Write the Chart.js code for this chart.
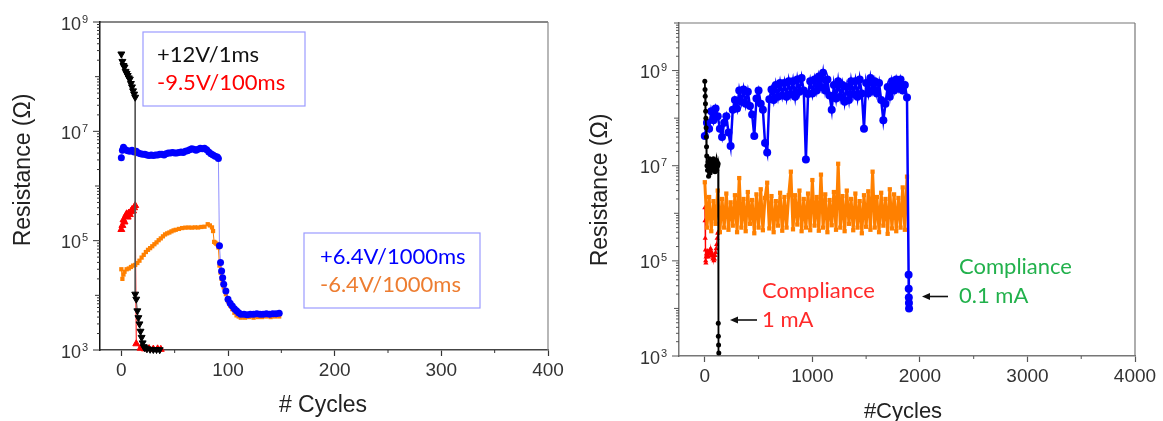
<!DOCTYPE html>
<html>
<head>
<meta charset="utf-8">
<script src="https://cdn.jsdelivr.net/npm/chart.js@4.4.1/dist/chart.umd.min.js"></script>
<style>
  html, body { margin: 0; padding: 0; background: #fff; }
  #wrap { position: relative; width: 1163px; height: 421px; overflow: hidden; }
  canvas { position: absolute; top: 0; }
  #left { left: 0; }
  #right { left: 580px; }
</style>
</head>
<body>
<div id="wrap">
  <canvas id="left" width="580" height="421"></canvas>
  <canvas id="right" width="583" height="421"></canvas>
</div>
<script>
// ---- left panel: pulse conditions ----
const leftBlackX = [0,1,2,3,4,5,6,7,8,9,10,11,12,13, 13,14,15,16,17,18,19,20,21,22,24,27,30,33,36];
const leftBlackY = [2.6e8,1.9e8,1.6e8,1.5e8,1.25e8,1.15e8,1.05e8,9.5e7,9e7,7.5e7,6.5e7,5.5e7,4.8e7,4.2e7,
  1.05e4,8.5e3,5.2e3,3.9e3,3e3,2.2e3,1.7e3,1.35e3,1.15e3,1.1e3,1.05e3,1.03e3,1.02e3,1.02e3,1.01e3];

const leftRedX = [0,1,2,3,4,5,6,7,8,9,10,11,12,13, 14,18,22,26,30,34,37];
const leftRedY = [1.6e5,1.9e5,2.4e5,2.2e5,2.8e5,3.1e5,2.7e5,3.2e5,3.0e5,3.4e5,3.7e5,3.5e5,4.0e5,4.4e5,
  1.3e3,1.08e3,1.05e3,1.06e3,1.04e3,1.05e3,1.03e3];

const leftBlueX = [0,1,2,4,6,8,10,12,14,16,18,20,22,24,26,28,30,32,34,36,38,40,42,44,46,48,50,52,54,56,58,60,62,
  64,66,68,70,72,74,76,78,80,82,84,86,88,90,91,
  92,93,94,95,96,98,100,102,104,106,108,110,112,
  115,118,121,124,127,130,133,136,139,142,145,148];
const leftBlueY = [3.3e6,4.5e6,5.1e6,
  4.6e6,4.4e6,4.3e6,4.5e6,4.2e6,4.3e6,4.0e6,3.9e6,3.8e6,3.8e6,
  3.7e6,3.6e6,3.7e6,3.6e6,3.7e6,3.7e6,3.8e6,3.8e6,3.7e6,3.9e6,
  4.0e6,4.0e6,4.1e6,4.0e6,4.0e6,4.1e6,4.2e6,4.1e6,4.3e6,4.4e6,
  4.6e6,4.8e6,4.7e6,4.5e6,4.7e6,4.9e6,4.8e6,4.9e6,4.6e6,4.2e6,
  3.9e6,3.7e6,3.5e6,3.4e6,3.2e6,
  8.1e4,4e4,2.8e4,2.1e4,1.6e4,1.2e4,8.5e3,7.2e3,6.4e3,5.7e3,5.2e3,4.8e3,4.5e3,
  4.5e3,4.4e3,4.5e3,4.5e3,4.6e3,4.5e3,4.5e3,4.6e3,4.5e3,4.6e3,4.6e3,4.7e3];

const leftOrangeX = [0,1,2,3,5,7,9,11,13,15,17,19,21,23,25,27,29,31,33,35,37,39,41,43,45,47,49,51,
  54,57,60,63,66,69,72,75,78,81,83,85,86,87,88,89,90,91,92,93,94,95,96,
  98,100,102,104,106,108,110,112,116,120,124,128,132,136,140,144,148];
const leftOrangeY = [3.0e4,2.0e4,2.4e4,2.7e4,
  3.0e4,3.1e4,3.3e4,3.5e4,3.6e4,3.9e4,4.3e4,4.9e4,5.5e4,6.2e4,6.8e4,7.3e4,
  7.9e4,8.6e4,9.3e4,1.02e5,1.1e5,1.2e5,1.3e5,1.36e5,1.41e5,1.48e5,1.54e5,1.58e5,
  1.64e5,1.7e5,1.73e5,1.74e5,1.73e5,1.75e5,1.74e5,1.78e5,1.8e5,
  2.0e5,1.9e5,1.75e5,
  1.5e5,9.5e4,9.2e4,8.8e4,8.6e4,7.5e4,3.5e4,2.6e4,2.0e4,1.7e4,1.4e4,
  1.05e4,7.8e3,6.5e3,5.6e3,4.8e3,4.3e3,4.1e3,3.9e3,
  3.9e3,4.0e3,3.9e3,4.0e3,4.0e3,4.1e3,4.0e3,4.1e3,4.1e3];

// ---- right panel: compliance ----
const rightBlackX = [0,2,4,6,8,10,12,14,16,18,20,
  25,30,35,40,45,50,55,60,65,70,75,80,85,90,95,100,105,110,115,120,124,
  125,126,128,130];
const rightBlackY = [6e8,4e8,2.9e8,2e8,1.4e8,1e8,6.3e7,4e7,2.5e7,1.6e7,1e7,
  8e6,1.2e7,6e6,1e7,1.4e7,7e6,1.2e7,9e6,1.3e7,8e6,1.1e7,1.4e7,9e6,1.2e7,7.5e6,1.1e7,1.3e7,8e6,1.2e7,1e7,1.1e7,
  4.9e3,2.6e3,1.7e3,1.15e3];

const rightRedX = [0,2,4,6,8,10,12,15,20,25,30,35,40,45,50,55,60,65,70,75,80,85,90,95,100,105,110,115,120,124];
const rightRedY = [1.3e6,7e5,3e5,1.7e5,1e5,9e4,1.2e5,1.4e5,1.3e5,1.6e5,1.4e5,1.2e5,1.5e5,1.7e5,1.4e5,
  1.8e5,1.6e5,1.3e5,1.4e5,1.1e5,1.2e5,1e5,1.1e5,1.3e5,1.5e5,1.8e5,2.2e5,3e5,3.8e5,4e5];

const rightCycles = [0,20,40,60,80,100,120,140,160,180,
  200,220,240,260,280,300,320,340,360,380,
  400,420,440,460,480,500,520,540,560,580,
  600,620,640,660,680,700,720,740,760,780,
  800,820,840,860,880,900,920,940,960,980,
  1000,1020,1040,1060,1080,1100,1120,1140,1160,1180,
  1200,1220,1240,1260,1280,1300,1320,1340,1360,1380,
  1400,1420,1440,1460,1480,1500,1520,1540,1560,1580,
  1600,1620,1640,1660,1680,1700,1720,1740,1760,1780,
  1800,1820,1840,1860,1880];

const rightBlueY = [4.2e7,8e7,6e7,1.4e8,9e7,1.6e8,1.1e8,6e7,4e7,8e7,
  1.1e8,5e7,2.6e7,1.5e8,2.4e8,1.6e8,3.8e8,2.2e8,4e8,2e8,
  3.6e8,1.8e8,1.2e8,4.2e7,2.6e8,3.8e8,2e8,1.5e8,3e7,1.9e7,
  2.5e8,4e8,2.4e8,5e8,2.8e8,5.5e8,3e8,5.5e8,2.8e8,6e8,
  3.2e8,6e8,2.8e8,6.5e8,3.6e8,7e8,3.8e8,1.35e7,3.2e8,6e8,
  3.3e8,6.5e8,3.8e8,7.5e8,4.5e8,9e8,3.8e8,6.5e8,3e8,1.5e8,
  5e8,2.6e8,6e8,2.8e8,5e8,2.2e8,4.5e8,2.4e8,6e8,3.2e8,
  6e8,2.8e8,6.5e8,3.3e8,6e7,5.5e8,3.3e8,7e8,3.8e8,6e8,
  3.3e8,5.5e8,2.4e8,9e7,2e8,4.5e8,2.8e8,6e8,3.8e8,6.5e8,
  4.2e8,6.5e8,3.8e8,5e8,2.7e8];
const rightBlueTailX = [1895,1896,1897,1898,1899];
const rightBlueTailY = [5.1e4,2.6e4,1.7e4,1.3e4,1e4];

const rightOrangeY = [4.5e6,5e5,2.2e6,4.2e5,1.8e6,6e5,3e6,4e5,2e6,5e5,
  2.6e6,4.5e5,1.7e6,5.5e5,2.4e6,4e5,5.5e6,5e5,2e6,4.2e5,
  2.8e6,6e5,1.9e6,3.8e5,2.5e6,5e5,3.2e6,4.4e5,2.1e6,4.4e6,
  4.8e5,2.3e6,4e5,1.8e6,5.5e5,2.7e6,4.3e5,2.2e6,5e5,2.4e6,
  7.5e6,4.6e5,2.4e6,5.8e5,3e6,4.2e5,2e6,5e5,2.6e6,4.4e5,
  5e6,5.5e5,2.2e6,4.3e5,6.5e6,5e5,2.5e6,4e5,1.9e6,5.6e5,
  2.8e6,4.5e5,1.1e7,5e5,2.3e6,4.2e5,3e6,6e5,2e6,4.4e5,
  2.6e6,5e5,1.8e6,3.8e5,2.4e6,5.2e5,2.9e6,4.5e5,7.5e6,5e5,
  2.2e6,4e5,2.7e6,5.5e5,2e6,3.7e5,3.2e6,4.8e5,2.5e6,4.2e5,
  2.1e6,5e5,3.5e6,4.5e5,5.9e6];

const leftXTicks = [0,100,200,300,400];
const leftXTicksMinor = [50,150,250,350];
const rightXTicks = [0,1000,2000,3000,4000];
const rightXTicksMinor = [500,1500,2500,3500];
const yLabelExps = [3,5,7,9];

function pts(xs, ys) {
  return xs.map((x, i) => ({ x: x, y: ys[i] }));
}

function series(xs, ys, o) {
  return Object.assign({ data: pts(xs, ys), showLine: true, clip: false }, o);
}

function line(ctx, x1, y1, x2, y2) {
  ctx.beginPath(); ctx.moveTo(x1, y1); ctx.lineTo(x2, y2); ctx.stroke();
}

// frame, log ticks with superscript labels, titles and annotations
const decor = {
  id: 'decor',
  afterDraw(chart, args, o) {
    const ctx = chart.ctx, a = chart.chartArea;
    const xs = chart.scales.x, ys = chart.scales.y;
    ctx.save();
    ctx.lineWidth = 1.2;
    ctx.strokeStyle = o.topColor;
    line(ctx, a.left, a.top, a.right, a.top);
    ctx.strokeStyle = o.rightColor;
    line(ctx, a.right, a.top, a.right, a.bottom);

    ctx.strokeStyle = o.tickColor;
    ctx.lineWidth = 1;
    for (let e = o.expMin; e <= o.expMax; e++) {
      for (let m = 1; m <= 9; m++) {
        const v = m * Math.pow(10, e);
        if (v > ys.max * 1.0001) break;
        const py = ys.getPixelForValue(v);
        const len = m > 1 ? 3 : (yLabelExps.includes(e) ? 7 : 5);
        line(ctx, a.left - len, py, a.left, py);
      }
    }
    o.xMinor.forEach(v => {
      const px = xs.getPixelForValue(v);
      line(ctx, px, a.bottom, px, a.bottom + 3);
    });

    ctx.fillStyle = '#333';
    ctx.textBaseline = 'alphabetic';
    yLabelExps.forEach(e => {
      const py = ys.getPixelForValue(Math.pow(10, e));
      ctx.font = '18px "Liberation Sans"';
      ctx.textAlign = 'right';
      ctx.fillText('10', a.left - 19, py + 7.5);
      ctx.font = '11px "Liberation Sans"';
      ctx.textAlign = 'left';
      ctx.fillText(String(e), a.left - 18, py + 0.5);
    });

    o.boxes.forEach(b => {
      ctx.strokeStyle = '#9b9bff';
      ctx.lineWidth = 1.2;
      ctx.strokeRect(b.x, b.y, b.w, b.h);
    });

    o.arrows.forEach(r => {
      ctx.strokeStyle = '#111';
      ctx.fillStyle = '#111';
      ctx.lineWidth = 1.6;
      line(ctx, r.x1, r.y, r.x2 + 6, r.y);
      ctx.beginPath();
      ctx.moveTo(r.x2, r.y);
      ctx.lineTo(r.x2 + 8, r.y - 3.5);
      ctx.lineTo(r.x2 + 8, r.y + 3.5);
      ctx.closePath();
      ctx.fill();
    });

    o.texts.forEach(t => {
      ctx.font = t.font;
      ctx.fillStyle = t.color;
      ctx.textBaseline = 'alphabetic';
      if (t.rotate) {
        ctx.save();
        ctx.translate(t.x, t.y);
        ctx.rotate(-Math.PI / 2);
        ctx.textAlign = 'center';
        ctx.fillText(t.text, 0, 0);
        ctx.restore();
      } else {
        ctx.textAlign = t.align || 'left';
        ctx.fillText(t.text, t.x, t.y);
      }
    });
    ctx.restore();
  }
};
Chart.register(decor);

function makeOptions(cfg) {
  return {
    responsive: false,
    animation: false,
    devicePixelRatio: 1,
    layout: { padding: { top: cfg.top, right: cfg.right, left: 0, bottom: 0 } },
    plugins: { legend: { display: false }, tooltip: { enabled: false }, decor: cfg.decor },
    scales: {
      x: {
        type: 'linear', min: cfg.xMin, max: cfg.xMax,
        afterFit: s => { s.height = cfg.xHeight; },
        afterBuildTicks: s => { s.ticks = cfg.xTicks.map(v => ({ value: v })); },
        grid: { drawOnChartArea: false, drawTicks: true, tickLength: 6, tickColor: cfg.tickColor, tickWidth: 1.2 },
        border: { color: cfg.xAxisColor, width: 1.5 },
        ticks: { maxRotation: 0, autoSkip: false, padding: 3, color: '#333',
                 font: { family: 'Liberation Sans', size: 19 },
                 callback: v => String(v) }
      },
      y: {
        type: 'logarithmic', min: 1e3, max: cfg.yMax,
        afterFit: s => { s.width = cfg.yWidth; },
        grid: { display: false },
        border: { color: cfg.yAxisColor, width: 1.5 },
        ticks: { display: false }
      }
    }
  };
}

const legendFont = '22px Lato';

new Chart(document.getElementById('left'), {
  type: 'scatter',
  data: {
    datasets: [
      series(leftBlackX, leftBlackY, { borderColor: '#555', borderWidth: 1, pointStyle: 'triangle', pointRotation: 180,
        pointRadius: 4, pointBackgroundColor: '#000', pointBorderColor: '#000', pointBorderWidth: 1 }),
      series(leftBlueX, leftBlueY, { borderColor: 'rgba(70,70,255,0.6)', borderWidth: 1, pointStyle: 'circle',
        pointRadius: 3.5, pointBackgroundColor: '#0000ff', pointBorderColor: '#0000ff', pointBorderWidth: 0 }),
      series(leftOrangeX, leftOrangeY, { borderColor: '#ff8000', borderWidth: 1, pointStyle: 'rect',
        pointRadius: 3, pointBackgroundColor: '#ff8000', pointBorderColor: '#ff8000', pointBorderWidth: 0 }),
      series(leftRedX, leftRedY, { borderColor: '#ff0000', borderWidth: 1, pointStyle: 'triangle',
        pointRadius: 4, pointBackgroundColor: '#ff0000', pointBorderColor: '#ff0000', pointBorderWidth: 1 })
    ]
  },
  options: makeOptions({
    top: 22, right: 32, xHeight: 71, yWidth: 100,
    xMin: -20, xMax: 400, xTicks: leftXTicks, yMax: 1e9,
    tickColor: '#333', xAxisColor: '#444', yAxisColor: '#111',
    decor: {
      topColor: '#111', rightColor: '#888', tickColor: '#333',
      expMin: 3, expMax: 9, xMinor: leftXTicksMinor,
      boxes: [{ x: 143, y: 32, w: 162, h: 74 }, { x: 304, y: 233, w: 176, h: 75 }],
      arrows: [],
      texts: [
        { text: 'Resistance (Ω)', x: 30, y: 170, rotate: true, font: '23px "Liberation Sans"', color: '#222' },
        { text: '# Cycles', x: 323, y: 411.5, align: 'center', font: '23px "Liberation Sans"', color: '#222' },
        { text: '+12V/1ms', x: 157, y: 62, font: legendFont, color: '#111' },
        { text: '-9.5V/100ms', x: 157, y: 90, font: legendFont, color: '#ff0000' },
        { text: '+6.4V/1000ms', x: 320, y: 264, font: legendFont, color: '#0000ff' },
        { text: '-6.4V/1000ms', x: 320, y: 292, font: legendFont, color: '#ed7d31' }
      ]
    }
  })
});

new Chart(document.getElementById('right'), {
  type: 'scatter',
  data: {
    datasets: [
      series(rightBlackX, rightBlackY, { borderColor: '#000', borderWidth: 1.8, pointStyle: 'circle',
        pointRadius: 2.5, pointBackgroundColor: '#000', pointBorderColor: '#000', pointBorderWidth: 0 }),
      series(rightCycles.concat(rightBlueTailX), rightBlueY.concat(rightBlueTailY), { borderColor: '#0000ff', borderWidth: 2.5,
        pointStyle: 'circle', pointRadius: 4, pointBackgroundColor: '#0000ff', pointBorderColor: '#0000ff', pointBorderWidth: 0 }),
      series(rightCycles, rightOrangeY, { borderColor: '#ff8000', borderWidth: 3, pointStyle: 'rect',
        pointRadius: 3, pointBackgroundColor: '#ff8000', pointBorderColor: '#ff8000', pointBorderWidth: 0 }),
      series(rightRedX, rightRedY, { borderColor: '#ff0000', borderWidth: 1.2, pointStyle: 'triangle',
        pointRadius: 3, pointBackgroundColor: '#ff0000', pointBorderColor: '#ff0000', pointBorderWidth: 0 })
    ]
  },
  options: makeOptions({
    top: 23, right: 28, xHeight: 65, yWidth: 99,
    xMin: -240, xMax: 4000, xTicks: rightXTicks, yMax: 1e10,
    tickColor: '#555', xAxisColor: '#777', yAxisColor: '#777',
    decor: {
      topColor: '#777', rightColor: '#777', tickColor: '#555',
      expMin: 3, expMax: 10, xMinor: rightXTicksMinor,
      boxes: [],
      arrows: [{ x1: 177, x2: 150, y: 320 }, { x1: 368, x2: 342, y: 296.5 }],
      texts: [
        { text: 'Resistance (Ω)', x: 27, y: 190, rotate: true, font: '23px "Liberation Sans"', color: '#222' },
        { text: '#Cycles', x: 323, y: 418, align: 'center', font: '22px "Liberation Sans"', color: '#222' },
        { text: 'Compliance', x: 182, y: 297.5, font: '22px Lato', color: '#ff2a2a' },
        { text: '1 mA', x: 182, y: 326.5, font: '22px Lato', color: '#ff2a2a' },
        { text: 'Compliance', x: 379, y: 274, font: '22px Lato', color: '#22b14c' },
        { text: '0.1 mA', x: 379, y: 303, font: '22px Lato', color: '#22b14c' }
      ]
    }
  })
});
</script>
</body>
</html>
